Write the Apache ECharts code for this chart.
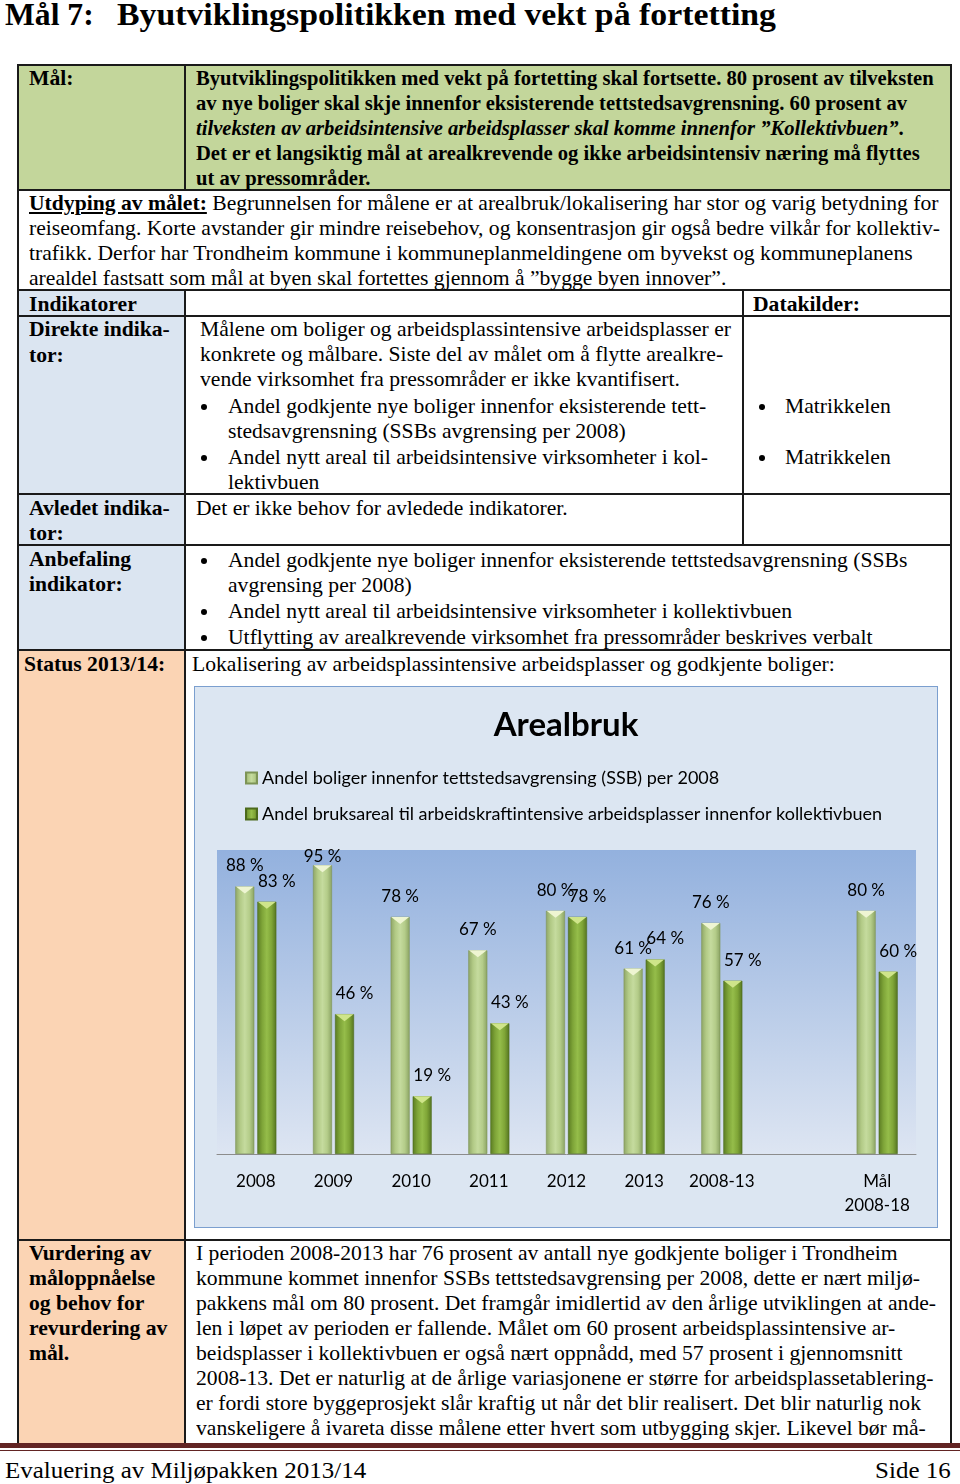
<!DOCTYPE html>
<html>
<head>
<meta charset="utf-8">
<script src="https://cdn.jsdelivr.net/npm/echarts@6/dist/echarts.min.js"></script>
<style>
  body { margin: 0; background: #fff; }
  #page { position: relative; width: 960px; height: 1484px; overflow: hidden;
    font-family: "Liberation Serif", "Times New Roman", serif; color: #000; }
  .box { position: absolute; }
  .l { position: absolute; white-space: nowrap; font-size: 21px; line-height: 25px;
    transform: scaleX(1.03); transform-origin: 0 50%; }
  .m { transform: scaleX(.98); }
  .h { font-size: 31px; line-height: 34px; font-weight: bold; transform: scaleX(1.09); }
  .h0 { font-size: 31px; line-height: 34px; font-weight: bold; transform: scaleX(1.02); }
  .f { font-size: 24px; line-height: 28px; transform: scaleX(1.04); }
  .dot { position: absolute; width: 6px; height: 6px; border-radius: 50%; background: #000; }
  .hl { position: absolute; height: 2px; background: #1a1a1a; }
  .vl { position: absolute; width: 2px; background: #1a1a1a; }
  #chart { position: absolute; left: 195px; top: 687px; width: 742px; height: 540px; }
</style>
</head>
<body>
<div id="page">
  <!-- cell backgrounds -->
  <div class="box" style="left:18px;top:65px;width:933px;height:125px;background:#c3d69b"></div>
  <div class="box" style="left:18px;top:290px;width:167px;height:360px;background:#dbe5f1"></div>
  <div class="box" style="left:18px;top:650px;width:167px;height:795px;background:#fbd4b4"></div>
  <!-- table lines -->
  <div class="hl" style="left:18px;top:64px;width:934px"></div>
  <div class="hl" style="left:18px;top:189px;width:934px"></div>
  <div class="hl" style="left:18px;top:289px;width:934px"></div>
  <div class="hl" style="left:18px;top:315px;width:934px"></div>
  <div class="hl" style="left:18px;top:493px;width:934px"></div>
  <div class="hl" style="left:18px;top:544px;width:934px"></div>
  <div class="hl" style="left:18px;top:649px;width:934px"></div>
  <div class="hl" style="left:18px;top:1239px;width:934px"></div>
  <div class="vl" style="left:17px;top:64px;height:1380px"></div>
  <div class="vl" style="left:950px;top:64px;height:1380px"></div>
  <div class="vl" style="left:184px;top:64px;height:126px"></div>
  <div class="vl" style="left:184px;top:289px;height:1155px"></div>
  <div class="vl" style="left:742px;top:289px;height:256px"></div>
  <!-- footer -->
  <div class="box" style="left:0;top:1443px;width:960px;height:5px;background:#622423"></div>
  <div class="box" style="left:0;top:1450px;width:960px;height:1px;background:#622423"></div>
  <div id="chart"></div>
</div>
<script>
  // --- chart data ---
  const categories = ["2008", "2009", "2010", "2011", "2012", "2013", "2008-13", "", "Mål\n2008-18"];
  const boliger = [88, 95, 78, 67, 80, 61, 76, null, 80];
  const arbeid = [83, 46, 19, 43, 78, 64, 57, null, 60];
  const seriesNames = [
    "Andel boliger innenfor tettstedsavgrensing (SSB) per 2008",
    "Andel bruksareal til arbeidskraftintensive arbeidsplasser innenfor kollektivbuen"
  ];

  // --- document text lines: [x, y-centre, html, class] ---
  const lines = [
    [5, 15, "Mål 7:", "h0"],
    [117, 15, "Byutviklingspolitikken med vekt på fortetting", "h"],
    [29, 78, "<b>Mål:</b>"],
    [196, 78, "<b>Byutviklingspolitikken med vekt på fortetting skal fortsette. 80 prosent av tilveksten</b>", "m"],
    [196, 103, "<b>av nye boliger skal skje innenfor eksisterende tettstedsavgrensning. 60 prosent av</b>", "m"],
    [196, 128, "<b><i>tilveksten av arbeidsintensive arbeidsplasser skal komme innenfor ”Kollektivbuen”</i>.</b>", "m"],
    [196, 153, "<b>Det er et langsiktig mål at arealkrevende og ikke arbeidsintensiv næring må flyttes</b>", "m"],
    [196, 178, "<b>ut av pressområder.</b>", "m"],
    [29, 203, "<b><u>Utdyping av målet:</u></b> Begrunnelsen for målene er at arealbruk/lokalisering har stor og varig betydning for"],
    [29, 228, "reiseomfang. Korte avstander gir mindre reisebehov, og konsentrasjon gir også bedre vilkår for kollektiv-"],
    [29, 253, "trafikk. Derfor har Trondheim kommune i kommuneplanmeldingene om byvekst og kommuneplanens"],
    [29, 278, "arealdel fastsatt som mål at byen skal fortettes gjennom å ”bygge byen innover”."],
    [29, 304, "<b>Indikatorer</b>"],
    [753, 304, "<b>Datakilder:</b>"],
    [29, 329, "<b>Direkte indika-</b>"],
    [29, 355, "<b>tor:</b>"],
    [200, 329, "Målene om boliger og arbeidsplassintensive arbeidsplasser er"],
    [200, 354, "konkrete og målbare. Siste del av målet om å flytte arealkre-"],
    [200, 379, "vende virksomhet fra pressområder er ikke kvantifisert."],
    [228, 406, "Andel godkjente nye boliger innenfor eksisterende tett-"],
    [228, 431, "stedsavgrensning (SSBs avgrensing per 2008)"],
    [228, 457, "Andel nytt areal til arbeidsintensive virksomheter i kol-"],
    [228, 482, "lektivbuen"],
    [785, 406, "Matrikkelen"],
    [785, 457, "Matrikkelen"],
    [29, 508, "<b>Avledet indika-</b>"],
    [29, 533, "<b>tor:</b>"],
    [196, 508, "Det er ikke behov for avledede indikatorer."],
    [29, 559, "<b>Anbefaling</b>"],
    [29, 584, "<b>indikator:</b>"],
    [228, 560, "Andel godkjente nye boliger innenfor eksisterende tettstedsavgrensning (SSBs"],
    [228, 585, "avgrensing per 2008)"],
    [228, 611, "Andel nytt areal til arbeidsintensive virksomheter i kollektivbuen"],
    [228, 637, "Utflytting av arealkrevende virksomhet fra pressområder beskrives verbalt"],
    [24, 664, "<b>Status 2013/14:</b>"],
    [192, 664, "Lokalisering av arbeidsplassintensive arbeidsplasser og godkjente boliger:"],
    [29, 1253, "<b>Vurdering av</b>"],
    [29, 1278, "<b>måloppnåelse</b>"],
    [29, 1303, "<b>og behov for</b>"],
    [29, 1328, "<b>revurdering av</b>"],
    [29, 1353, "<b>mål.</b>"],
    [196, 1253, "I perioden 2008-2013 har 76 prosent av antall nye godkjente boliger i Trondheim"],
    [196, 1278, "kommune kommet innenfor SSBs tettstedsavgrensing per 2008, dette er nært miljø-"],
    [196, 1303, "pakkens mål om 80 prosent. Det framgår imidlertid av den årlige utviklingen at ande-"],
    [196, 1328, "len i løpet av perioden er fallende. Målet om 60 prosent arbeidsplassintensive ar-"],
    [196, 1353, "beidsplasser i kollektivbuen er også nært oppnådd, med 57 prosent i gjennomsnitt"],
    [196, 1378, "2008-13. Det er naturlig at de årlige variasjonene er større for arbeidsplassetablering-"],
    [196, 1403, "er fordi store byggeprosjekt slår kraftig ut når det blir realisert. Det blir naturlig nok"],
    [196, 1428, "vanskeligere å ivareta disse målene etter hvert som utbygging skjer. Likevel bør må-"],
    [5, 1470, "Evaluering av Miljøpakken 2013/14", "f"]
  ];
  const bullets = [[204, 406], [204, 457], [762, 406], [762, 457], [204, 560], [204, 611], [204, 637]];

  const page = document.getElementById("page");
  lines.forEach(([x, y, html, cls]) => {
    const d = document.createElement("div");
    d.className = "l" + (cls ? " " + cls : "");
    d.innerHTML = html;
    const lh = (cls === "h" || cls === "h0") ? 34 : cls === "f" ? 28 : 25;
    d.style.left = x + "px";
    d.style.top = (y - lh / 2) + "px";
    page.appendChild(d);
  });
  // right aligned footer page number
  const side = document.createElement("div");
  side.className = "l f";
  side.textContent = "Side 16";
  side.style.right = "9px";
  side.style.top = (1470 - 14) + "px";
  side.style.transformOrigin = "100% 50%";
  page.appendChild(side);
  bullets.forEach(([x, y]) => {
    const d = document.createElement("div");
    d.className = "dot";
    d.style.left = (x - 3) + "px";
    d.style.top = (y - 2) + "px";
    page.appendChild(d);
  });

  // --- chart ---
  const grad = (stops) => new echarts.graphic.LinearGradient(0, 0, 1, 0,
    stops.map((c, i) => ({ offset: i / (stops.length - 1), color: c })));
  const lightCol = grad(["#8ea566", "#b2ca86", "#c5db9e", "#b4cc89", "#8aa263"]);
  const darkCol = grad(["#5a7b22", "#7ea438", "#95bd4a", "#7fa537", "#547420"]);

  // bevelled top of each bar, placed from the axis coordinates
  const cap = (dx, fill) => (params, api) => {
    const v = api.value(1);
    if (v == null || isNaN(v)) return;
    const p = api.coord([api.value(0), v]);
    const x = p[0] + dx;
    return {
      type: "polygon",
      shape: { points: [[x - 9, p[1]], [x + 9, p[1]], [x, p[1] + 7]] },
      style: { fill: fill }
    };
  };
  // shift labels sideways and keep them from sticking out above the plot area
  const labelShift = (dx) => (params) => {
    const r = params.labelRect;
    return { dx: dx, dy: r.y < 161 ? 161 - r.y : 0 };
  };

  let myChart = echarts.init(document.getElementById("chart"));
  myChart.setOption({
    backgroundColor: "#dce6f2",
    textStyle: { fontFamily: "Lato, 'Open Sans', sans-serif" },
    title: {
      text: "Arealbruk",
      left: "center",
      top: 17,
      textStyle: { fontSize: 33, fontWeight: "bold", color: "#000", fontFamily: "Lato, sans-serif" }
    },
    legend: {
      orient: "vertical",
      left: 45,
      top: 77,
      itemGap: 18,
      itemWidth: 11,
      itemHeight: 11,
      icon: "rect",
      textStyle: { fontSize: 18, color: "#000" },
      data: seriesNames
    },
    grid: {
      left: 22,
      right: 21,
      top: 163,
      bottom: 73,
      show: true,
      borderWidth: 0,
      backgroundColor: new echarts.graphic.LinearGradient(0, 0, 0, 1, [
        { offset: 0, color: "#93b1de" },
        { offset: 1, color: "#dde5f2" }
      ])
    },
    xAxis: {
      type: "category",
      data: categories,
      axisTick: { show: false },
      axisLine: { lineStyle: { color: "#8c8c8c", width: 1 } },
      axisLabel: { interval: 0, fontSize: 17, color: "#000", margin: 16, lineHeight: 24 }
    },
    yAxis: {
      type: "value",
      min: 0,
      max: 100,
      show: false,
      splitLine: { show: false }
    },
    series: [
      {
        name: seriesNames[0],
        type: "bar",
        data: boliger,
        barWidth: 19,
        barGap: "16%",
        itemStyle: { color: lightCol, borderColor: "#7d9456", borderWidth: 0.6 },
        label: { show: true, position: "top", distance: 12, fontSize: 17, color: "#000",
          formatter: (p) => p.value + " %" },
        labelLayout: labelShift(0)
      },
      {
        name: seriesNames[1],
        type: "bar",
        data: arbeid,
        barWidth: 19,
        itemStyle: { color: darkCol, borderColor: "#4c6a1c", borderWidth: 0.6 },
        label: { show: true, position: "top", distance: 12, fontSize: 17, color: "#000",
          formatter: (p) => p.value + " %" },
        labelLayout: labelShift(10)
      },
      {
        name: "cap1",
        type: "custom",
        renderItem: cap(-11, "#eef5d2"),
        data: boliger.map((v, i) => [i, v]),
        encode: { x: 0, y: 1 },
        z: 5,
        silent: true
      },
      {
        name: "cap2",
        type: "custom",
        renderItem: cap(11, "#cfe58a"),
        data: arbeid.map((v, i) => [i, v]),
        encode: { x: 0, y: 1 },
        z: 5,
        silent: true
      }
    ]
  });
  // border around the chart frame
  document.getElementById("chart").style.outline = "1.5px solid #7b9fcf";

  window.addEventListener("resize", () => {
    myChart.resize();
  });
</script>
</body>
</html>
